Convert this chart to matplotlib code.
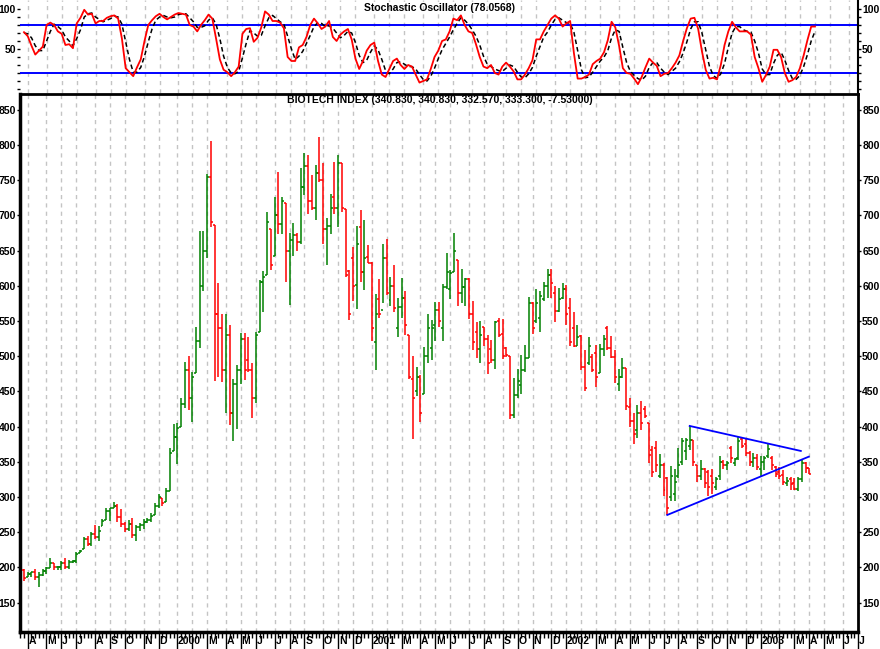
import numpy as np
import pandas as pd
import matplotlib
matplotlib.use('Agg')
import matplotlib.pyplot as plt
import matplotlib.dates as mdates
from matplotlib.transforms import blended_transform_factory

plt.rcParams['font.family'] = ['Liberation Sans', 'DejaVu Sans']
plt.rcParams['font.weight'] = 'bold'
plt.rcParams['font.size'] = 8

first_week = '1999-03-26'

highs = [198, 194, 194, 198, 194, 198, 201, 213, 206, 202,
         209, 213, 210, 211, 222, 225, 243, 245, 250, 260,
         259, 269, 284, 285, 293, 290, 283, 265, 268, 270,
         261, 263, 269, 270, 277, 291, 305, 299, 313, 369,
         404, 405, 440, 492, 500, 478, 541, 678, 678, 759,
         806, 687, 604, 560, 560, 544, 467, 488, 533, 533,
         527, 490, 535, 608, 621, 705, 681, 726, 761, 726,
         717, 675, 689, 675, 767, 788, 786, 757, 772, 811,
         774, 696, 731, 776, 786, 775, 709, 623, 655, 685,
         708, 694, 658, 634, 588, 610, 660, 667, 612, 630,
         582, 611, 592, 530, 500, 485, 473, 513, 560, 551,
         577, 577, 603, 646, 622, 675, 637, 624, 611, 611,
         579, 549, 550, 542, 530, 523, 550, 555, 553, 513,
         500, 469, 482, 502, 516, 584, 577, 596, 592, 606,
         624, 624, 600, 597, 604, 601, 582, 563, 544, 530,
         509, 527, 503, 516, 517, 530, 543, 529, 509, 482,
         497, 483, 440, 419, 431, 436, 429, 405, 373, 380,
         361, 348, 329, 344, 340, 370, 384, 384, 401, 381,
         346, 353, 341, 338, 340, 329, 358, 353, 351, 372,
         355, 386, 385, 382, 365, 363, 361, 358, 358, 376,
         358, 344, 342, 339, 329, 328, 327, 329, 353, 350,
         340.83]

lows = [181, 187, 186, 182, 172, 188, 191, 199, 197, 197,
        196, 198, 198, 206, 207, 220, 226, 230, 231, 241,
        238, 259, 268, 266, 284, 265, 258, 251, 252, 242,
        237, 252, 254, 263, 265, 274, 284, 287, 293, 308,
        366, 347, 399, 426, 423, 407, 476, 511, 593, 640,
        683, 465, 471, 463, 419, 403, 380, 396, 461, 466,
        477, 413, 434, 535, 563, 615, 622, 643, 674, 674,
        605, 573, 642, 650, 659, 729, 702, 707, 694, 747,
        659, 630, 674, 702, 683, 705, 612, 551, 578, 567,
        606, 594, 632, 522, 480, 554, 576, 587, 572, 563,
        528, 554, 530, 467, 383, 444, 407, 447, 491, 495,
        521, 542, 522, 596, 581, 620, 571, 576, 571, 553,
        509, 497, 491, 515, 475, 491, 482, 528, 496, 499,
        411, 413, 440, 446, 478, 498, 531, 547, 535, 578,
        582, 582, 548, 563, 581, 544, 514, 513, 514, 480,
        450, 488, 477, 457, 476, 500, 509, 498, 462, 450,
        469, 423, 400, 376, 384, 395, 412, 349, 328, 336,
        327, 302, 275, 295, 294, 327, 346, 353, 367, 344,
        322, 324, 313, 302, 305, 310, 324, 340, 338, 348,
        344, 353, 369, 358, 344, 342, 339, 329, 339, 355,
        339, 329, 325, 317, 316, 310, 310, 308, 322, 334,
        332.57]

opens = [197, 187, 191, 193, 186, 190, 195, 199, 206, 200,
         201, 207, 200, 208, 209, 220, 226, 240, 233, 247,
         244, 259, 268, 280, 284, 288, 272, 262, 254, 262,
         246, 258, 260, 265, 267, 274, 287, 299, 293, 309,
         366, 385, 399, 432, 480, 440, 476, 522, 600, 650,
         755, 687, 560, 540, 480, 530, 420, 460, 480, 525,
         495, 480, 440, 535, 605, 615, 681, 643, 700, 688,
         717, 650, 665, 672, 662, 740, 770, 720, 710, 760,
         750, 680, 685, 726, 710, 774, 709, 621, 640, 601,
         684, 620, 641, 633, 520, 581, 565, 640, 580, 600,
         540, 570, 582, 530, 467, 450, 471, 447, 500, 512,
         544, 566, 540, 599, 595, 620, 637, 590, 599, 610,
         560, 535, 510, 541, 525, 510, 495, 550, 532, 512,
         500, 417, 445, 459, 480, 498, 576, 550, 554, 581,
         600, 615, 590, 564, 582, 595, 569, 540, 514, 529,
         485, 490, 499, 505, 476, 510, 540, 512, 499, 460,
         471, 483, 428, 408, 395, 420, 425, 405, 367, 370,
         330, 345, 327, 300, 305, 330, 350, 365, 372, 381,
         346, 330, 340, 335, 330, 315, 330, 350, 345, 370,
         349, 355, 383, 375, 362, 350, 356, 340, 350, 358,
         355, 342, 335, 332, 320, 325, 320, 312, 325, 348,
         340.83]

closes = [185, 191, 193, 186, 190, 195, 199, 206, 200, 201,
          207, 200, 208, 209, 219, 223, 240, 233, 247, 244,
          252, 266, 280, 284, 288, 272, 262, 254, 262, 246,
          258, 260, 265, 267, 273, 287, 300, 292, 309, 362,
          385, 398, 432, 480, 440, 470, 522, 600, 650, 755,
          690, 560, 540, 480, 530, 420, 460, 480, 525, 480,
          480, 440, 530, 605, 612, 690, 630, 700, 688, 720,
          650, 665, 672, 662, 740, 770, 720, 710, 760, 750,
          680, 685, 710, 710, 774, 710, 615, 560, 600, 660,
          620, 639, 633, 540, 560, 560, 640, 590, 600, 568,
          570, 582, 545, 470, 440, 471, 420, 500, 540, 540,
          565, 550, 599, 620, 618, 650, 590, 599, 610, 560,
          520, 510, 530, 525, 490, 495, 549, 530, 500, 502,
          417, 445, 465, 480, 498, 576, 540, 575, 585, 600,
          615, 604, 564, 581, 595, 560, 520, 514, 527, 485,
          455, 515, 480, 470, 510, 525, 512, 499, 470, 471,
          483, 430, 408, 390, 419, 405, 415, 360, 335, 345,
          345, 310, 285, 330, 322, 346, 380, 381, 381, 350,
          330, 340, 320, 315, 320, 325, 350, 345, 349, 355,
          354, 380, 372, 362, 350, 356, 342, 350, 355, 368,
          345, 333, 330, 322, 323, 318, 312, 325, 348, 340.83,
          333.30]

stoch_k = [71, 66, 54, 43, 48, 53, 80, 83, 80, 72,
           69, 55, 56, 51, 82, 89, 99, 93, 94, 82,
           85, 85, 89, 91, 92, 88, 63, 26, 21, 16,
           27, 37, 60, 80, 86, 91, 94, 90, 87, 90,
           93, 95, 94, 93, 80, 78, 72, 80, 86, 93,
           88, 63, 37, 24, 21, 16, 21, 28, 69, 75,
           76, 59, 64, 77, 97, 93, 85, 85, 83, 76,
           40, 35, 35, 52, 55, 65, 80, 88, 82, 75,
           78, 85, 65, 60, 68, 72, 75, 62, 38, 25,
           35, 48, 55, 58, 35, 18, 15, 25, 35, 38,
           30, 25, 30, 28, 18, 8, 10, 12, 25, 40,
           48, 60, 62, 72, 88, 86, 92, 80, 72, 70,
           56, 40, 28, 26, 30, 20, 18, 28, 33, 28,
           22, 12, 12, 18, 26, 36, 62, 62, 72, 80,
           88, 92, 88, 78, 82, 85, 45, 13, 13, 15,
           18, 31, 35, 38, 46, 61, 84, 77, 54, 26,
           20, 19, 13, 6, 15, 27, 38, 33, 29, 16,
           19, 20, 26, 33, 42, 60, 76, 88, 89, 75,
           47, 24, 13, 14, 12, 30, 55, 72, 84, 77,
           72, 72, 72, 68, 40, 26, 9, 17.5, 28, 49,
           49, 40, 20, 9, 11, 15, 26, 42, 61, 78,
           78.0568]

stoch_d = [70, 69, 64, 54, 48, 48, 60, 72, 81, 78,
           74, 65, 60, 54, 63, 74, 90, 94, 95, 90,
           87, 84, 86, 88, 91, 90, 81, 59, 37, 21,
           21, 27, 41, 59, 75, 86, 90, 92, 90, 89,
           90, 93, 94, 94, 89, 84, 77, 77, 79, 86,
           89, 81, 63, 41, 27, 20, 19, 22, 39, 57,
           73, 70, 66, 67, 79, 89, 92, 88, 84, 81,
           66, 50, 37, 41, 47, 57, 67, 78, 83, 82,
           78, 79, 76, 70, 64, 67, 72, 70, 58, 42,
           33, 36, 46, 54, 49, 37, 23, 19, 25, 33,
           34, 31, 28, 28, 25, 18, 12, 10, 16, 26,
           38, 49, 57, 65, 74, 82, 89, 86, 81, 74,
           66, 55, 41, 31, 28, 25, 23, 22, 26, 30,
           28, 21, 15, 14, 19, 27, 41, 53, 65, 71,
           80, 87, 89, 86, 83, 82, 71, 48, 24, 14,
           15, 21, 28, 35, 40, 48, 64, 74, 72, 52,
           33, 22, 17, 13, 11, 16, 27, 33, 33, 26,
           21, 18, 22, 26, 34, 45, 59, 75, 84, 84,
           70, 49, 28, 17, 13, 19, 32, 52, 70, 78,
           78, 74, 72, 71, 60, 45, 25, 18, 18, 32,
           42, 46, 36, 23, 13, 12, 17, 28, 43, 60,
           72]

# triangle trend lines: (start date, start value, end date, end value)
trend_lines = [('2002-08-23', 401.0, '2003-03-19', 365.5),
               ('2002-07-12', 274.6, '2003-04-03', 357.4)]

month_letters = 'JFMAMJJASOND'

dates = pd.date_range(first_week, periods=len(closes), freq='7D')
x = mdates.date2num(dates)
opens, highs, lows, closes = map(np.array, (opens, highs, lows, closes))
cols = np.where(closes >= opens, '#008000', '#ff0000')

x0 = x[0] - 7.4
x1 = x[0] + 1550

# month gridlines sit on the first weekly bar of each month
fridays = pd.date_range('1999-03-19', '2003-07-04', freq='7D')
fr = pd.Series(fridays, index=fridays)
month_starts = fr.groupby([fr.dt.year, fr.dt.month]).first()
month_starts = [d for d in month_starts if d >= pd.Timestamp('1999-04-01')]
mx = mdates.date2num(month_starts)

W, H = 880, 649
fig = plt.figure(figsize=(W / 100, H / 100), dpi=100)
ax_st = fig.add_axes([20 / W, 1 - 92.5 / H, 838 / W, 92.5 / H])
ax = fig.add_axes([20 / W, 1 - 632 / H, 838 / W, (632 - 93.5) / H])

grid_kw = dict(color='#c4c4c4', lw=1, ls=(0, (3, 3)), zorder=0)

# ---- stochastic panel
for m in mx:
    ax_st.axvline(m, **grid_kw)
ax_st.axhline(80, color='#0000ff', lw=1.4, zorder=2)
ax_st.axhline(20, color='#0000ff', lw=1.4, zorder=2)
ax_st.plot(x, stoch_d, color='black', lw=1.1, ls=(0, (3, 2)), zorder=3)
ax_st.plot(x, stoch_k, color='#ff0000', lw=1.3, zorder=4)
ax_st.set_xlim(x0, x1)
ax_st.set_ylim(-4.4, 111.25)
ax_st.set_xticks([])
ax_st.set_yticks([50, 100])
ax_st.set_yticks(range(0, 101, 10), minor=True)
ax_st.tick_params(axis='y', which='both', left=True, right=True, labelleft=True,
                  labelright=True, direction='out', length=2.5, width=1, pad=0.5,
                  labelsize=7.5)
for s in ['top', 'left', 'bottom']:
    ax_st.spines[s].set_visible(False)
ax_st.spines['right'].set_linewidth(1.5)
ax_st.text(0.501, 0.915, 'Stochastic Oscillator (78.0568)', transform=ax_st.transAxes,
           ha='center', va='center', fontsize=7.5, fontweight='bold')

# ---- price panel
for m in mx:
    ax.axvline(m, **grid_kw)
tick_w = 3.7
ax.vlines(x, lows, highs, colors=cols, lw=1.1, zorder=3)
ax.hlines(opens, x - tick_w, x, colors=cols, lw=1.1, zorder=3)
ax.hlines(closes, x, x + tick_w, colors=cols, lw=1.1, zorder=3)
for d0, v0, d1, v1 in trend_lines:
    ax.plot(mdates.date2num(pd.to_datetime([d0, d1])), [v0, v1],
            color='#0000ff', lw=1.3, zorder=4)

ax.set_xlim(x0, x1)
ax.set_ylim(108.4, 873.1)
ax.set_yticks(range(150, 851, 50))
ax.tick_params(axis='y', which='both', left=True, right=True, labelleft=True,
               labelright=True, direction='out', length=2.5, width=1, pad=0.5,
               labelsize=7.5)
ax.set_xticks(mx)
ax.set_xticks(mdates.date2num(fridays), minor=True)
ax.tick_params(axis='x', which='major', direction='out', length=13, width=1,
               labelbottom=False)
ax.tick_params(axis='x', which='minor', direction='out', length=4, width=1)
ax.spines['left'].set_linewidth(2.5)
ax.spines['bottom'].set_linewidth(2.5)
ax.spines['right'].set_linewidth(2)
ax.spines['top'].set_linewidth(2)

trans = blended_transform_factory(ax.transData, ax.transAxes)
for d, m in zip(month_starts, mx):
    if d.month == 2:
        continue
    lab = str(d.year) if d.month == 1 else month_letters[d.month - 1]
    ax.text(m + 1.5, -0.0075, lab, transform=trans, ha='left', va='top',
            fontsize=7.5, fontweight='bold')

ax.text(0.501, 0.988, 'BIOTECH INDEX (340.830, 340.830, 332.570, 333.300, -7.53000)',
        transform=ax.transAxes, ha='center', va='center', fontsize=7.5,
        fontweight='bold')

fig.savefig('out.png', dpi=100)
